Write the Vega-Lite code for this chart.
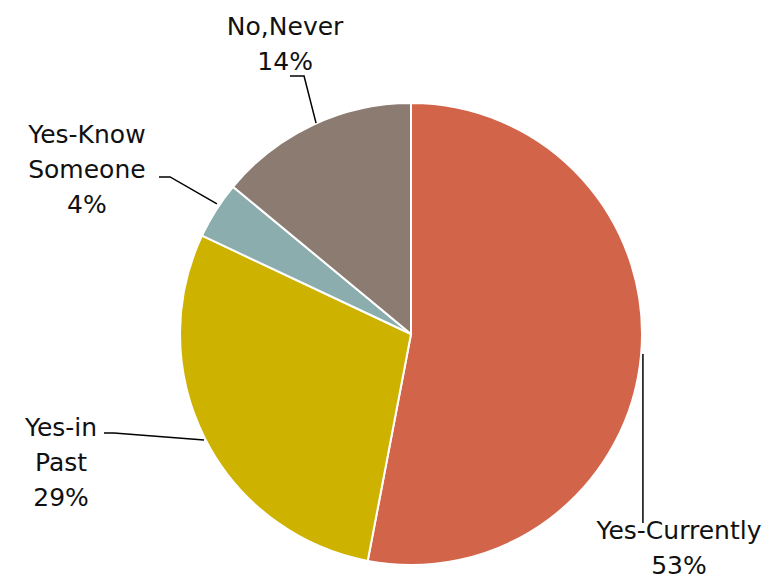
{
  "$schema": "https://vega.github.io/schema/vega-lite/v6.json",
  "autosize": "none",
  "width": 462,
  "height": 462,
  "padding": {"left": 180, "top": 103, "right": 142, "bottom": 15},
  "background": "white",
  "config": {"view": {"stroke": null}},
  "datasets": {
    "slices": [
      {"answer": "Yes-Currently", "pct": 53, "order": 1},
      {"answer": "Yes-in Past", "pct": 29, "order": 2},
      {"answer": "Yes-Know Someone", "pct": 4, "order": 3},
      {"answer": "No,Never", "pct": 14, "order": 4}
    ],
    "leaders": [
      {"answer": "No,Never", "step": 1, "lx": -0.524, "ly": 1.117},
      {"answer": "No,Never", "step": 2, "lx": -0.463, "ly": 1.117},
      {"answer": "No,Never", "step": 3, "lx": -0.411, "ly": 0.913},
      {"answer": "Yes-Know Someone", "step": 1, "lx": -1.091, "ly": 0.68},
      {"answer": "Yes-Know Someone", "step": 2, "lx": -1.043, "ly": 0.68},
      {"answer": "Yes-Know Someone", "step": 3, "lx": -0.84, "ly": 0.563},
      {"answer": "Yes-in Past", "step": 1, "lx": -1.329, "ly": -0.429},
      {"answer": "Yes-in Past", "step": 2, "lx": -1.286, "ly": -0.429},
      {"answer": "Yes-in Past", "step": 3, "lx": -0.896, "ly": -0.459},
      {"answer": "Yes-Currently", "step": 1, "lx": 1.004, "ly": -0.087},
      {"answer": "Yes-Currently", "step": 2, "lx": 1.004, "ly": -0.818}
    ],
    "labels": [
      {"label": "No,Never\n14%", "tx": -0.545, "ty": 1.33},
      {"label": "Yes-Know\nSomeone\n4%", "tx": -1.403, "ty": 0.862},
      {"label": "Yes-in\nPast\n29%", "tx": -1.515, "ty": -0.405},
      {"label": "Yes-Currently\n53%", "tx": 1.16, "ty": -0.853}
    ]
  },
  "layer": [
    {
      "data": {"name": "slices"},
      "mark": {"type": "arc", "stroke": "white", "strokeWidth": 2, "outerRadius": 231},
      "encoding": {
        "theta": {"field": "pct", "type": "quantitative", "stack": true},
        "order": {"field": "order", "type": "quantitative"},
        "color": {
          "field": "answer",
          "type": "nominal",
          "sort": null,
          "legend": null,
          "scale": {
            "domain": ["Yes-Currently", "Yes-in Past", "Yes-Know Someone", "No,Never"],
            "range": ["#D2644A", "#CEB200", "#8CADAE", "#8B7B70"]
          }
        }
      }
    },
    {
      "data": {"name": "leaders"},
      "mark": {"type": "line", "color": "black", "strokeWidth": 1.5, "clip": false},
      "encoding": {
        "x": {"field": "lx", "type": "quantitative", "scale": {"domain": [-1, 1], "nice": false, "zero": false}, "axis": null},
        "y": {"field": "ly", "type": "quantitative", "scale": {"domain": [-1, 1], "nice": false, "zero": false}, "axis": null},
        "detail": {"field": "answer", "type": "nominal"},
        "order": {"field": "step", "type": "quantitative"}
      }
    },
    {
      "data": {"name": "labels"},
      "mark": {"type": "text", "font": "DejaVu Sans", "fontSize": 25, "lineHeight": 35, "lineBreak": "\n", "align": "center", "baseline": "middle", "color": "#111111", "clip": false},
      "encoding": {
        "x": {"field": "tx", "type": "quantitative"},
        "y": {"field": "ty", "type": "quantitative"},
        "text": {"field": "label", "type": "nominal"}
      }
    }
  ]
}
